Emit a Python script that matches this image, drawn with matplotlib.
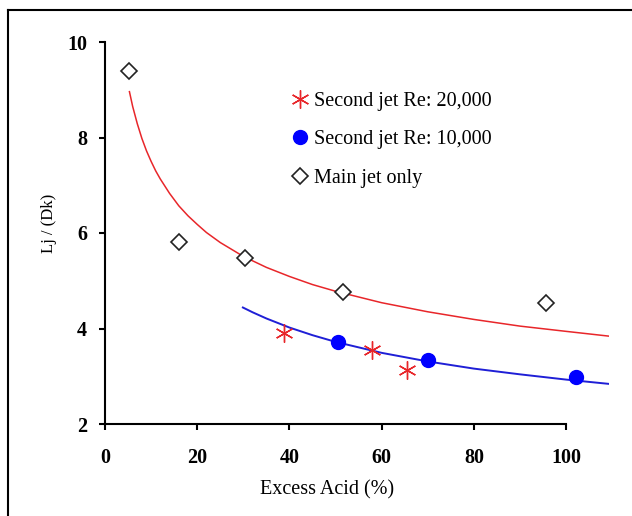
import matplotlib
matplotlib.use("Agg")
import matplotlib.pyplot as plt
from matplotlib.lines import Line2D

# Data
main_x = [5.3, 16.1, 30.4, 51.7, 95.7]
main_y = [9.39, 5.82, 5.47, 4.76, 4.53]

re20k_x = [38.9, 57.8, 65.6]
re20k_y = [3.90, 3.55, 3.13]

re10k_x = [50.5, 70.1, 102.2]
re10k_y = [3.71, 3.33, 2.98]

# Trend curves (power-law trendlines)
red_trend_x = [5.3, 6, 7, 8, 9, 10, 11, 12, 14, 16, 18, 20, 22, 25, 30, 35, 40, 45, 50,
               60, 70, 80, 90, 100, 109.3]
red_trend_y = [8.96, 8.65, 8.29, 7.98, 7.72, 7.50, 7.30, 7.13, 6.83, 6.57, 6.36, 6.18, 6.01,
               5.80, 5.51, 5.28, 5.09, 4.92, 4.78, 4.54, 4.35, 4.19, 4.05, 3.94, 3.84]

blue_trend_x = [29.9, 32, 35, 40, 45, 50, 60, 70, 80, 90, 100, 109.3]
blue_trend_y = [4.44, 4.34, 4.21, 4.02, 3.86, 3.72, 3.49, 3.31, 3.16, 3.04, 2.93, 2.84]

x_ticks = [0, 20, 40, 60, 80, 100]
y_ticks = [2, 4, 6, 8, 10]

plt.rcParams['font.family'] = ['Liberation Serif', 'DejaVu Serif']

fig = plt.figure(figsize=(6.32, 5.16), dpi=100)
W, H = 632, 516
ax_left, ax_right, ax_top, ax_bottom = 105, 609, 42, 424
ax = fig.add_axes([ax_left / W, 1 - ax_bottom / H, (ax_right - ax_left) / W, (ax_bottom - ax_top) / H])

ax.plot(red_trend_x, red_trend_y, color='#e8262a', lw=1.1, zorder=2)
ax.plot(blue_trend_x, blue_trend_y, color='#1f1fd6', lw=1.4, zorder=2)

ax.plot(re20k_x, re20k_y, linestyle='none', marker=(6, 2, 0), ms=13, mec='#e8262a', mew=1.0,
        label='Second jet Re: 20,000', zorder=3)
ax.plot(re10k_x, re10k_y, linestyle='none', marker='o', ms=10, mfc='#0000ff', mec='#0000ff',
        label='Second jet Re: 10,000', zorder=3)
ax.plot(main_x, main_y, linestyle='none', marker='D', ms=8.5, mfc='white', mec='#222222', mew=1.2,
        label='Main jet only', zorder=3)

ax.set_xlim(0, 109.3)
ax.set_ylim(2, 10)
ax.set_xticks(x_ticks)
ax.set_yticks(y_ticks)
ax.spines['top'].set_visible(False)
ax.spines['right'].set_visible(False)
ax.spines['bottom'].set_bounds(0, 100)
for s in ('left', 'bottom'):
    ax.spines[s].set_linewidth(1.5)
ax.tick_params(direction='out', length=4, width=1.5, labelsize=14.5)
ax.tick_params(axis='y', pad=9)
ax.tick_params(axis='x', pad=13)
for lab in ax.get_xticklabels() + ax.get_yticklabels():
    lab.set_fontweight('bold')

ax.set_xlabel('Excess Acid (%)', fontsize=14.5)
ax.xaxis.label.set_verticalalignment('center')
ax.xaxis.set_label_coords((327.5 - ax_left) / (ax_right - ax_left), (ax_bottom - 490) / (ax_bottom - ax_top))
ax.set_ylabel('Lj / (Dk)', fontsize=12)
ax.yaxis.label.set_verticalalignment('center')
ax.yaxis.set_label_coords((49 - ax_left) / (ax_right - ax_left), (ax_bottom - 223) / (ax_bottom - ax_top))

leg = ax.legend(loc='upper left', bbox_to_anchor=((294 - ax_left) / (ax_right - ax_left), (ax_bottom - 92) / (ax_bottom - ax_top)),
                frameon=False, fontsize=14.5, handlelength=0.6, handletextpad=0.4,
                labelspacing=0.95, borderaxespad=0, borderpad=0)

# Figure frame (top and left edges)
fig.add_artist(Line2D([8 / W, 8 / W], [0, 1 - 10 / H], transform=fig.transFigure, color='black', lw=1.5))
fig.add_artist(Line2D([8 / W, 1], [1 - 10 / H, 1 - 10 / H], transform=fig.transFigure, color='black', lw=1.5))

fig.savefig('out.png', dpi=100)
